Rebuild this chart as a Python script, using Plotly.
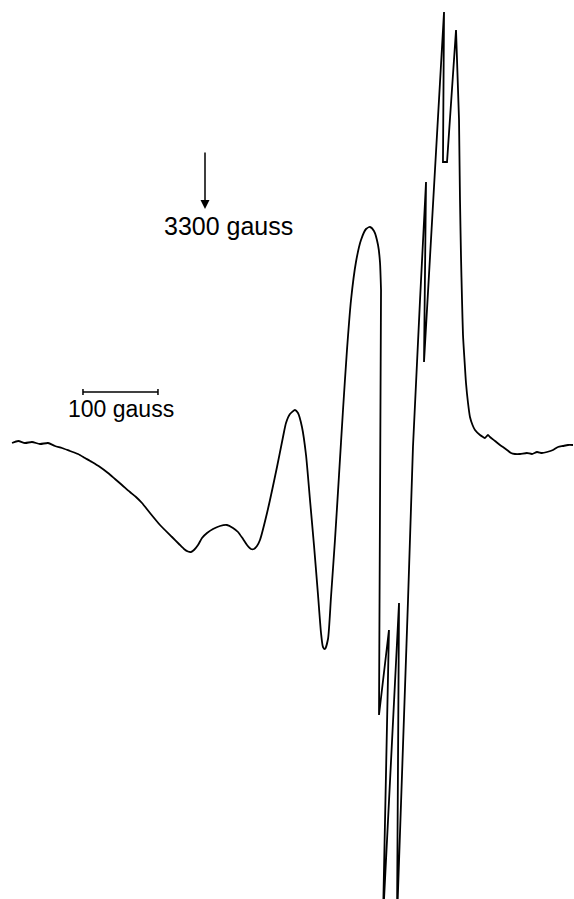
import plotly.graph_objects as go

# Magnetic field (gauss) along the recorded EPR trace, in pen order
# --- broad, slowly varying low-field part (smooth) ---
field_low = [
    3042.7, 3051.0, 3060.0, 3069.3, 3080.0, 3090.7, 3100.0, 3109.3, 3120.0, 3130.7,
    3140.0, 3149.3, 3160.0, 3170.7, 3180.0, 3189.3, 3200.0, 3208.0, 3216.0, 3226.7,
    3240.0, 3256.0, 3265.3, 3272.0, 3277.3, 3281.3, 3285.3, 3290.7, 3296.0, 3302.7,
    3310.7, 3320.0, 3329.3, 3337.3, 3344.0, 3350.7, 3356.0, 3361.3, 3365.3, 3369.3,
    3373.3, 3382.7, 3396.0, 3404.0, 3408.0, 3413.3, 3420.0, 3424.0, 3429.3, 3434.7,
    3440.0, 3445.3, 3450.7, 3454.7, 3457.3, 3460.0, 3464.0, 3468.0, 3473.3, 3478.7,
    3484.0, 3489.3, 3494.7, 3501.3, 3508.0, 3514.7, 3520.0, 3525.3, 3530.7, 3533.3,
    3534.7,
]
signal_low = [
    2, 4, 2, 3, 1, 2, -1, -3, -6, -9,
    -13, -17, -22, -28, -34, -40, -47, -52, -58, -68,
    -80, -92, -99, -104, -106.5, -107, -105, -100, -93, -88,
    -84, -81, -80, -83, -87, -94, -100, -104, -104, -101,
    -95, -68, -22, 8, 22, 31, 35, 32, 18, -10,
    -55, -100, -150, -188, -202, -204, -194, -152, -95, -30,
    35, 95, 145, 183, 205, 216, 218, 214, 200, 183,
    155,
]

# --- sharp lines (pen overshoots, drawn straight) ---
field_sharp = [
    3534.7, 3533.3, 3532.0, 3545.3, 3537.3, 3558.7, 3556.0, 3570.7, 3577.3, 3586.7,
    3594.7, 3592.0, 3618.7, 3617.3, 3622.7, 3634.7, 3638.7,
]
signal_sharp = [
    155, -55, -270, -185, -475, -158, -475, -155, -2, 145,
    263, 83, 433, 283, 283, 415, 325,
]

# --- high-field tail (smooth) ---
field_high = [
    3638.7, 3640.0, 3641.3, 3642.7, 3644.0, 3646.0, 3648.0, 3650.7, 3653.3, 3656.7,
    3660.0, 3666.7, 3670.7, 3673.3, 3677.3, 3680.0, 3686.7, 3693.3, 3697.3, 3702.7,
    3708.0, 3713.3, 3720.0, 3729.3, 3736.0, 3742.7, 3749.3, 3756.0, 3764.0, 3770.7,
    3777.3, 3784.0, 3790.7,
]
signal_high = [
    325, 245, 190, 145, 110, 85, 62, 42, 28, 20,
    15, 10, 8, 7, 10, 8, 4, 0, -2, -5,
    -8, -9, -9, -8, -9, -7, -8, -7, -5, -2,
    -1, 0, 0,
]

marker_field = 3300
scale_bar_gauss = 100
labels = ["3300 gauss", "100 gauss"]

fig = go.Figure()
fig.add_trace(go.Scatter(x=field_low, y=signal_low, mode="lines",
                         line=dict(color="black", width=1.8, shape="spline", smoothing=0.6),
                         hoverinfo="skip", showlegend=False))
fig.add_trace(go.Scatter(x=field_sharp, y=signal_sharp, mode="lines",
                         line=dict(color="black", width=1.8),
                         hoverinfo="skip", showlegend=False))
fig.add_trace(go.Scatter(x=field_high, y=signal_high, mode="lines",
                         line=dict(color="black", width=1.8, shape="spline", smoothing=0.6),
                         hoverinfo="skip", showlegend=False))

bar_x0 = 3137.3
bar_y = 53
fig.add_shape(type="line", x0=bar_x0, x1=bar_x0 + scale_bar_gauss, y0=bar_y, y1=bar_y,
              line=dict(color="black", width=1.5))
for xe in (bar_x0, bar_x0 + scale_bar_gauss):
    fig.add_shape(type="line", x0=xe, x1=xe, y0=bar_y - 3, y1=bar_y + 3,
                  line=dict(color="black", width=1.5))

fig.add_annotation(x=marker_field, y=236, ax=0, ay=-58, axref="pixel", ayref="pixel",
                   text="", showarrow=True, arrowhead=2, arrowsize=1.2,
                   arrowwidth=1.5, arrowcolor="black")
fig.add_annotation(x=3243, y=219, text=labels[0], showarrow=False, xanchor="left",
                   yanchor="middle", font=dict(family="Liberation Sans", size=25, color="black"))
fig.add_annotation(x=3115, y=36, text=labels[1], showarrow=False, xanchor="left",
                   yanchor="middle", font=dict(family="Liberation Sans", size=23, color="black"))

fig.update_xaxes(range=[3026.67, 3792.0], visible=False)
fig.update_yaxes(range=[-454, 445], visible=False)
fig.update_layout(width=574, height=899, margin=dict(l=0, r=0, t=0, b=0),
                  paper_bgcolor="white", plot_bgcolor="white")

fig.write_html("out.html", config={"displayModeBar": False},
               post_script="document.body.style.margin='0';")
